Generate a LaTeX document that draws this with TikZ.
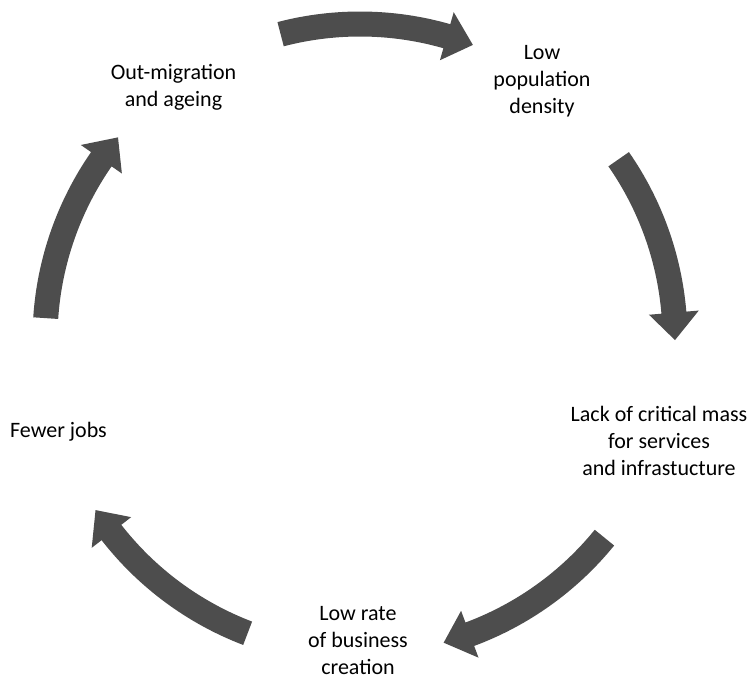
\documentclass[tikz,border=0pt]{standalone}
\usepackage{fontspec}
\setmainfont{Carlito}
\usetikzlibrary{calc}
\definecolor{arrowgray}{HTML}{4D4D4D}
\newcommand\cycarrow[2]{%
  \pgfmathsetmacro\hb{#2+5}%
  \fill[arrowgray] ($(C)+(#1:327.5)$) arc[start angle=#1, end angle=\hb, radius=327.5]
    -- ($(C)+(\hb:340)$) -- ($(C)+(#2:315)$) -- ($(C)+(\hb:290)$)
    -- ($(C)+(\hb:302.5)$) arc[start angle=\hb, end angle=#1, radius=302.5] -- cycle;
}
\begin{document}
\begin{tikzpicture}[x=1pt,y=1pt,
  lbl/.style={align=center, inner sep=0pt, anchor=base, font=\fontsize{22}{26.8}\selectfont, text=black}]
\useasboundingbox (0,0) rectangle (750,-680);
\coordinate (C) at (360,-339);
\cycarrow{104.6}{69}
\cycarrow{34.8}{-0.2}
\cycarrow{-39.1}{-74.6}
\cycarrow{-110.9}{-147.1}
\cycarrow{176.2}{140.2}
\node[lbl] (n1) at (542,-113.3) {Low\\population\\density};
\node[lbl] (n2) at (659,-475) {Lack of critical mass\\for services\\and infrastucture};
\node[lbl] (n3) at (358,-674.5) {Low rate\\of business\\creation};
\node[lbl] (n4) at (58.5,-437) {Fewer jobs};
\node[lbl] (n5) at (173.5,-106) {Out-migration\\and ageing};
\end{tikzpicture}
\end{document}
